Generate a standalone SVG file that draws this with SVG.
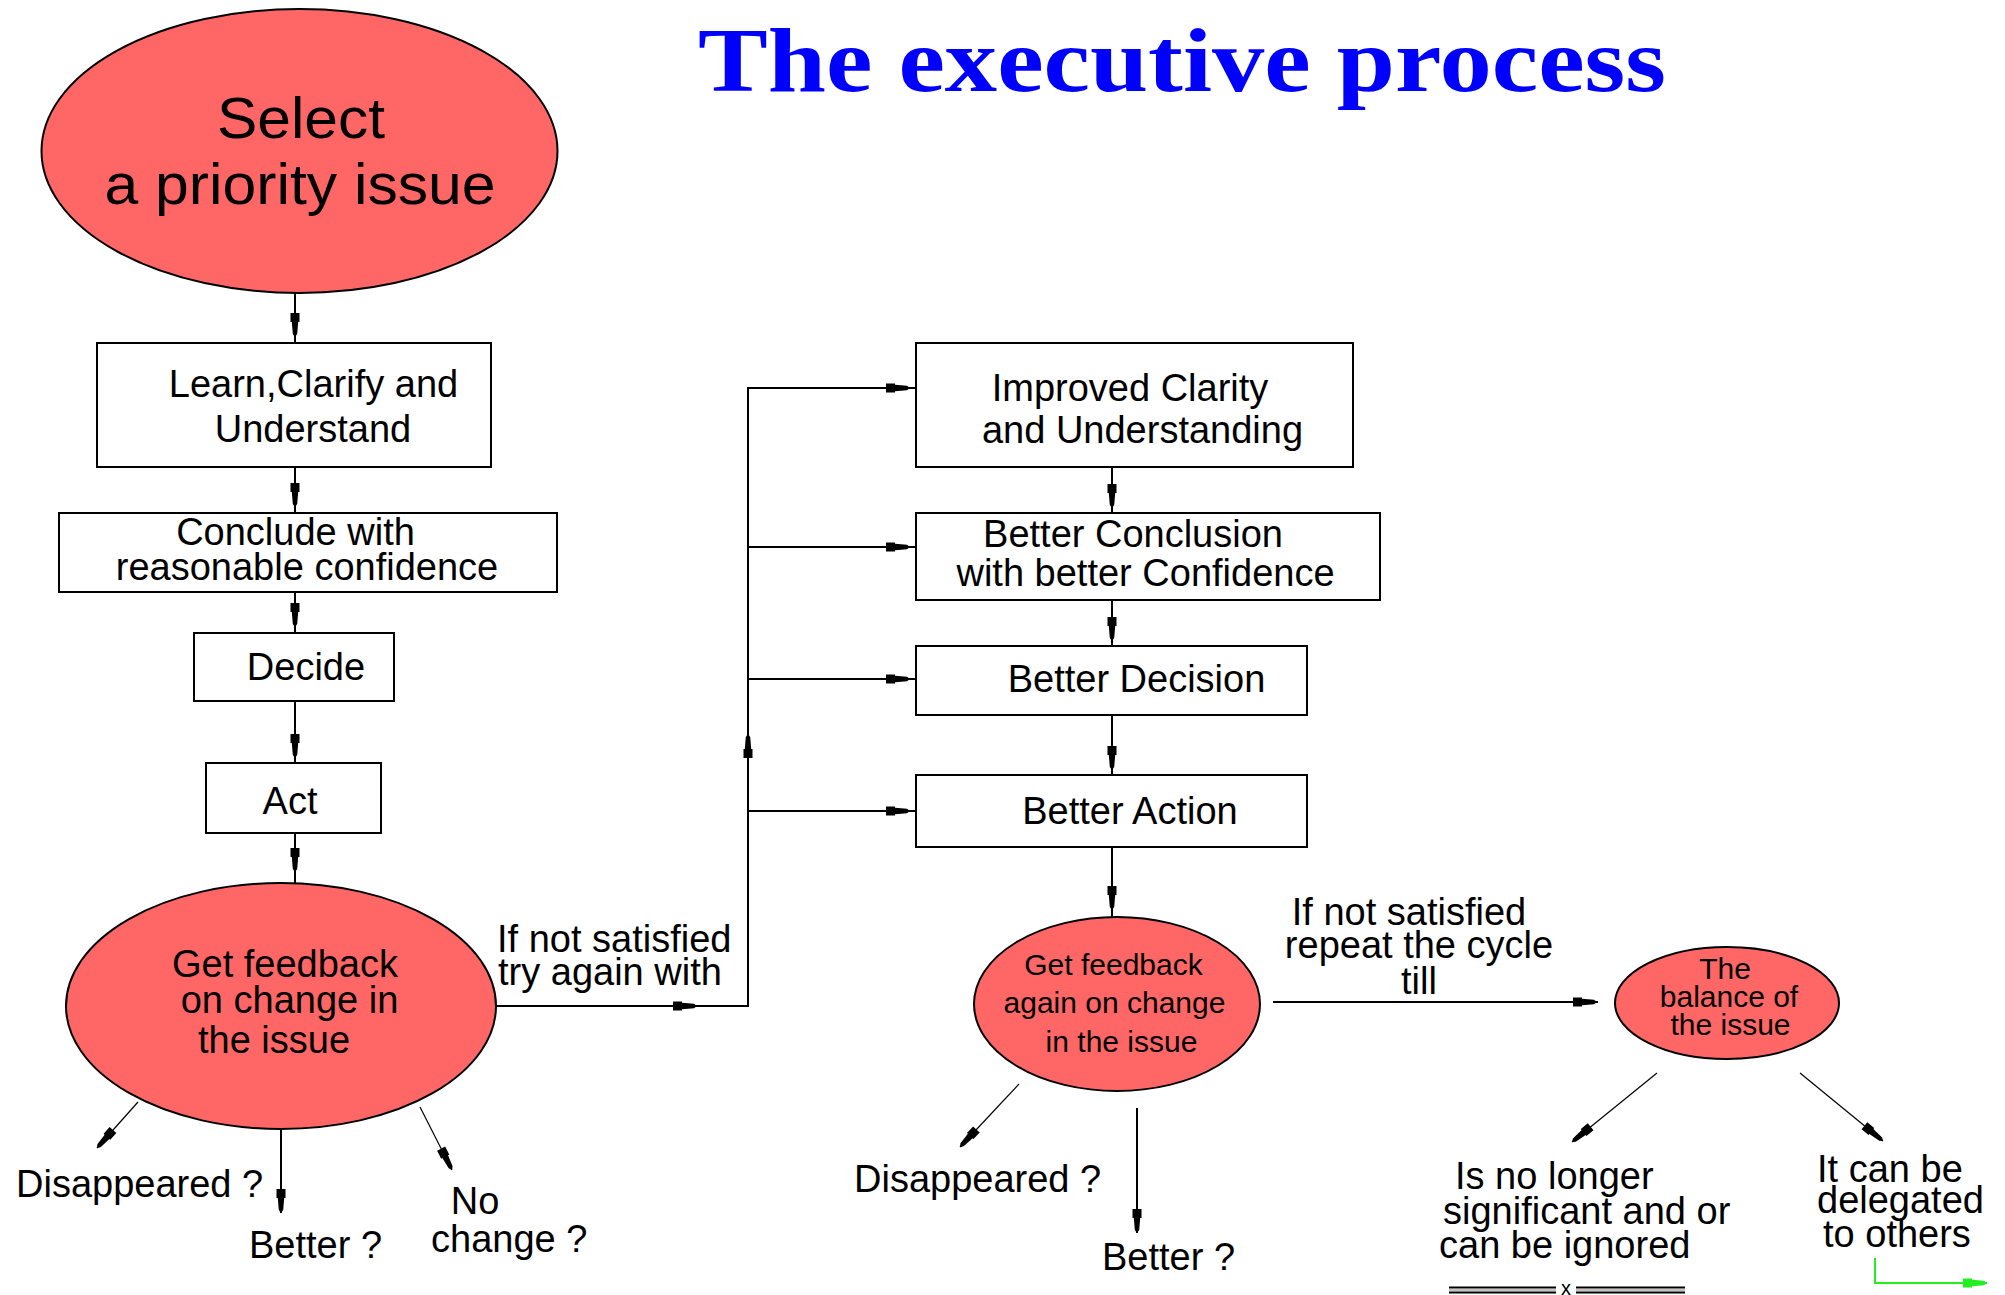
<svg xmlns="http://www.w3.org/2000/svg" width="2005" height="1295" viewBox="0 0 2005 1295">
<style>
.box{fill:#fff;stroke:#000;stroke-width:2}
.oval{fill:#ff6666;stroke:#000;stroke-width:2}
.t{font-family:"Liberation Sans",Arial,sans-serif;font-size:38px;fill:#000;text-anchor:middle}
.big{font-size:58px}
.ts{font-size:30px}
.tl{text-anchor:start}
.title{font-family:"Liberation Serif","Times New Roman",serif;font-weight:bold;font-size:92px;fill:#0000ff}
.ln{fill:none;stroke:#000;stroke-width:2}
.thin{fill:none;stroke:#000;stroke-width:1.2}
.grn{fill:none;stroke:#22ee22;stroke-width:2}
.ah{fill:#000}
.ahg{fill:#22ee22}
</style>
<defs>
<path id="ah" d="M-24,-4.5 L-15,-4.5 L-15,-3.2 L-3,-2.2 L0,0 L-3,2.2 L-15,3.2 L-15,4.5 L-24,4.5 Z"/>
</defs>
<rect width="2005" height="1295" fill="#fff"/>
<text class="title" x="698" y="91" textLength="968" lengthAdjust="spacingAndGlyphs">The executive process</text>

<g id="connectors">
  <path class="ln" d="M295,293 V343 M295,467 V513 M295,592 V633 M295,701 V763 M295,833 V883"/>
  <use href="#ah" class="ah" transform="translate(295,337) rotate(90)"/>
  <use href="#ah" class="ah" transform="translate(295,507) rotate(90)"/>
  <use href="#ah" class="ah" transform="translate(295,627) rotate(90)"/>
  <use href="#ah" class="ah" transform="translate(295,758) rotate(90)"/>
  <use href="#ah" class="ah" transform="translate(295,872) rotate(90)"/>
  <path class="ln" d="M496,1006 H748 V388 H916 M748,547 H916 M748,679 H916 M748,811 H916"/>
  <use href="#ah" class="ah" transform="translate(697,1006)"/>
  <use href="#ah" class="ah" transform="translate(748,734) rotate(-90)"/>
  <use href="#ah" class="ah" transform="translate(910,388)"/>
  <use href="#ah" class="ah" transform="translate(910,547)"/>
  <use href="#ah" class="ah" transform="translate(910,679)"/>
  <use href="#ah" class="ah" transform="translate(910,811)"/>
  <path class="ln" d="M1112,467 V513 M1112,600 V646 M1112,715 V775 M1112,847 V917"/>
  <use href="#ah" class="ah" transform="translate(1112,508) rotate(90)"/>
  <use href="#ah" class="ah" transform="translate(1112,641) rotate(90)"/>
  <use href="#ah" class="ah" transform="translate(1112,770) rotate(90)"/>
  <use href="#ah" class="ah" transform="translate(1112,910) rotate(90)"/>
  <path class="ln" d="M1273,1002 H1598"/>
  <use href="#ah" class="ah" transform="translate(1597,1002)"/>
  <path class="thin" d="M138,1102 L97,1148"/>
  <use href="#ah" class="ah" transform="translate(97,1148) rotate(131.7)"/>
  <path class="ln" d="M281,1129 V1213"/>
  <use href="#ah" class="ah" transform="translate(281,1213) rotate(90)"/>
  <path class="thin" d="M420,1107 L452,1170"/>
  <use href="#ah" class="ah" transform="translate(452,1170) rotate(63.1)"/>
  <path class="thin" d="M1019,1084 L960,1147"/>
  <use href="#ah" class="ah" transform="translate(960,1147) rotate(133.1)"/>
  <path class="ln" d="M1137,1108 V1233"/>
  <use href="#ah" class="ah" transform="translate(1137,1233) rotate(90)"/>
  <path class="thin" d="M1657,1073 L1572,1142"/>
  <use href="#ah" class="ah" transform="translate(1572,1142) rotate(140.9)"/>
  <path class="thin" d="M1800,1073 L1883,1141"/>
  <use href="#ah" class="ah" transform="translate(1883,1141) rotate(39.3)"/>
  <path class="grn" d="M1875,1258 V1283 H1987"/>
  <use href="#ah" class="ahg" transform="translate(1987,1283)"/>
</g>

<g id="n-select">
  <ellipse class="oval" cx="299.5" cy="151" rx="258" ry="142"/>
  <text class="t big" x="301" y="138" textLength="168" lengthAdjust="spacingAndGlyphs">Select</text>
  <text class="t big" x="300" y="204" textLength="391" lengthAdjust="spacingAndGlyphs">a priority issue</text>
</g>
<g id="n-learn">
  <rect class="box" x="97" y="343" width="394" height="124"/>
  <text class="t" x="313.5" y="397">Learn,Clarify and</text>
  <text class="t" x="313" y="442">Understand</text>
</g>
<g id="n-conclude">
  <rect class="box" x="59" y="513" width="498" height="79"/>
  <text class="t" x="295.5" y="545">Conclude with</text>
  <text class="t" x="307" y="580">reasonable confidence</text>
</g>
<g id="n-decide">
  <rect class="box" x="194" y="633" width="200" height="68"/>
  <text class="t" x="306" y="680">Decide</text>
</g>
<g id="n-act">
  <rect class="box" x="206" y="763" width="175" height="70"/>
  <text class="t" x="290" y="814">Act</text>
</g>
<g id="n-feedback1">
  <ellipse class="oval" cx="281" cy="1006" rx="215" ry="123"/>
  <text class="t" x="285" y="977">Get feedback</text>
  <text class="t" x="289.5" y="1013">on change in</text>
  <text class="t" x="274" y="1053">the issue</text>
</g>
<g id="l-try-again">
  <text class="t tl" x="497" y="952">If not satisfied</text>
  <text class="t tl" x="498" y="985">try again with</text>
</g>
<g id="n-improved">
  <rect class="box" x="916" y="343" width="437" height="124"/>
  <text class="t" x="1130" y="401">Improved Clarity</text>
  <text class="t" x="1142.5" y="443">and Understanding</text>
</g>
<g id="n-better-conclusion">
  <rect class="box" x="916" y="513" width="464" height="87"/>
  <text class="t" x="1133" y="547">Better Conclusion</text>
  <text class="t" x="1145.5" y="586">with better Confidence</text>
</g>
<g id="n-better-decision">
  <rect class="box" x="916" y="646" width="391" height="69"/>
  <text class="t" x="1136.5" y="692">Better Decision</text>
</g>
<g id="n-better-action">
  <rect class="box" x="916" y="775" width="391" height="72"/>
  <text class="t" x="1130" y="824">Better Action</text>
</g>
<g id="n-feedback2">
  <ellipse class="oval" cx="1117" cy="1004" rx="143" ry="87"/>
  <text class="t ts" x="1113.5" y="975">Get feedback</text>
  <text class="t ts" x="1114.5" y="1013">again on change</text>
  <text class="t ts" x="1121.5" y="1052">in the issue</text>
</g>
<g id="l-repeat">
  <text class="t" x="1409" y="925">If not satisfied</text>
  <text class="t" x="1419" y="958">repeat the cycle</text>
  <text class="t" x="1419" y="994">till</text>
</g>
<g id="n-balance">
  <ellipse class="oval" cx="1727" cy="1003" rx="112" ry="56"/>
  <text class="t ts" x="1725" y="979">The</text>
  <text class="t ts" x="1729" y="1007">balance of</text>
  <text class="t ts" x="1730.5" y="1035">the issue</text>
</g>
<g id="o-disappeared1"><text class="t tl" x="16" y="1197">Disappeared ?</text></g>
<g id="o-better1"><text class="t tl" x="249" y="1258">Better ?</text></g>
<g id="o-nochange"><text class="t" x="475" y="1214">No</text><text class="t tl" x="431" y="1252">change ?</text></g>
<g id="o-disappeared2"><text class="t tl" x="854" y="1192">Disappeared ?</text></g>
<g id="o-better2"><text class="t tl" x="1102" y="1270">Better ?</text></g>
<g id="o-ignored">
  <text class="t tl" x="1455" y="1189">Is no longer</text>
  <text class="t tl" x="1443" y="1224">significant and or</text>
  <text class="t tl" x="1439" y="1258">can be ignored</text>
</g>
<g id="o-delegated">
  <text class="t tl" x="1817" y="1182">It can be</text>
  <text class="t tl" x="1817" y="1213">delegated</text>
  <text class="t tl" x="1823" y="1247">to others</text>
</g>
<g id="separator">
  <path d="M1449,1287.5 H1556 M1576,1287.5 H1685 M1449,1292.5 H1556 M1576,1292.5 H1685" stroke="#000" stroke-width="2" fill="none"/>
  <path d="M1449,1290 H1556 M1576,1290 H1685" stroke="#888" stroke-width="1.2" fill="none"/>
  <text x="1566" y="1295" font-family="Liberation Sans, Arial, sans-serif" font-size="20" text-anchor="middle">x</text>
</g>
</svg>
